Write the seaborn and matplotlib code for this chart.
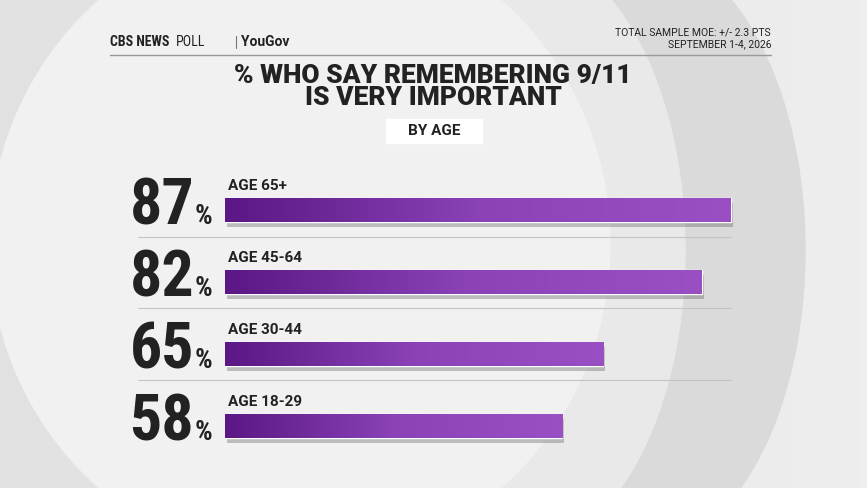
import numpy as np
import pandas as pd
import matplotlib.pyplot as plt
import seaborn as sns
from matplotlib.patches import Ellipse

groups = ["AGE 65+", "AGE 45-64", "AGE 30-44", "AGE 18-29"]
values = [87, 82, 65, 58]

df = pd.DataFrame({"group": groups, "value": values})

sns.set_theme(style="white")
plt.rcParams["font.family"] = ["Roboto", "DejaVu Sans"]

W, H = 867, 488
fig = plt.figure(figsize=(W / 100, H / 100), dpi=100)

# background: soft grey with faint arcs
bg = fig.add_axes([0, 0, 1, 1], zorder=-5)
bg.set_xlim(0, W)
bg.set_ylim(H, 0)
bg.axis("off")
grad = np.tile(np.linspace(0.88, 0.93, 256), (32, 1))
bg.imshow(grad, cmap="gray", vmin=0, vmax=1, extent=[0, W, H, 0], aspect="auto")
bg.add_patch(Ellipse((640, 250), 330, 600, color="#dadada", zorder=1.5))
bg.add_patch(Ellipse((520, 250), 330, 600, color="#e9e9e9", zorder=1.6))
bg.add_patch(Ellipse((300, 244), 620, 640, color="#f1f1f1", zorder=2))
bg.add_patch(Ellipse((640, 250), 240, 470, color="#cfcfcf", zorder=1.4, alpha=0.5))

# header
bg.text(110, 42, "CBS NEWS", fontsize=10, fontweight="bold", color="#222", va="center",
        family=["Roboto Condensed", "Roboto", "DejaVu Sans"])
bg.text(176, 42, "POLL", fontsize=10, color="#222", va="center",
        family=["Roboto Condensed", "Roboto", "DejaVu Sans"])
bg.plot([236, 236], [36, 48], color="#777", lw=0.8)
bg.text(241, 42, "YouGov", fontsize=10, fontweight="bold", color="#222", va="center")
bg.text(771, 33, "TOTAL SAMPLE MOE: +/- 2.3 PTS", fontsize=7.5, color="#222", ha="right", va="center")
bg.text(771, 44, "SEPTEMBER 1-4, 2026", fontsize=7.5, color="#222", ha="right", va="center")
bg.plot([110, 771], [55, 55], color="#999", lw=1)
bg.text(433, 87, "% WHO SAY REMEMBERING 9/11\nIS VERY IMPORTANT", fontsize=19, fontweight="heavy",
        color="#222", ha="center", va="center", linespacing=0.9)
bg.add_patch(plt.Rectangle((386, 119), 96, 24, color="white", zorder=3))
bg.text(434, 131, "BY AGE", fontsize=11, fontweight="bold", color="#222", ha="center", va="center", zorder=4)

# separators
for y in [237, 308, 380]:
    bg.plot([138, 731], [y, y], color="#c4c4c4", lw=0.8, zorder=5)

# chart
scale = 5.816
ax = fig.add_axes([225 / W, 1 - 462 / H, 100 * scale / W, 288 / H])
ax.patch.set_alpha(0)
sns.barplot(data=df, y="group", x="value", orient="h", ax=ax, width=0.333, color="#7a35a8")
ax.set_xlim(0, 100)
ax.set_ylim(3.5, -0.5)
ax.axis("off")

cmap = sns.blend_palette(["#5a1785", "#8a42b5", "#9a50c2"], as_cmap=True)
grad = np.linspace(0, 1, 256).reshape(1, -1)
for p in ax.patches:
    x0, y0, w, h = p.get_x(), p.get_y(), p.get_width(), p.get_height()
    ax.add_patch(plt.Rectangle((x0 + 0.3, y0 + 0.07), w, h, color="#444", alpha=0.3, zorder=1, lw=0))
    im = ax.imshow(grad, cmap=cmap, extent=[x0, x0 + w, y0 + h, y0], aspect="auto", zorder=2)
    im.set_clip_path(p)
    p.set_zorder(2)

for i, (g, v) in enumerate(zip(groups, values)):
    ax.text(0.5, i - 0.33, g, fontsize=11, fontweight="bold", color="#222", va="center", clip_on=False)
    ax.text(-5.3, i + 0.2, str(v), fontsize=46, fontweight="bold", color="#222", ha="right",
            va="baseline", clip_on=False, family=["Roboto Condensed", "Roboto", "DejaVu Sans"])
    ax.text(-5.2, i + 0.2, "%", fontsize=20, fontweight="bold", color="#222", ha="left",
            va="baseline", clip_on=False, family=["Roboto Condensed", "Roboto", "DejaVu Sans"])

fig.savefig("out.png", dpi=100)
